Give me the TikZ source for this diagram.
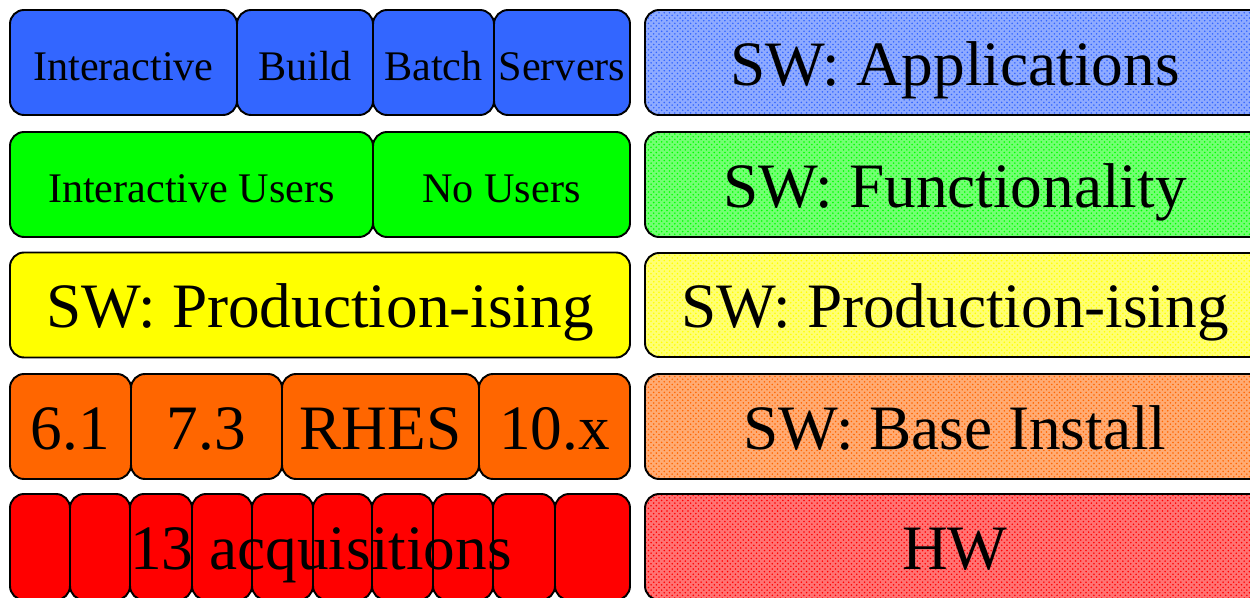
\documentclass[tikz,border=0pt]{standalone}
\usepackage{fontspec}
\setmainfont{Liberation Serif}
\usetikzlibrary{patterns}

\definecolor{hwred}{RGB}{255,0,0}
\definecolor{baseorange}{RGB}{255,102,0}
\definecolor{prodyellow}{RGB}{255,255,0}
\definecolor{funcgreen}{RGB}{0,255,0}
\definecolor{appblue}{RGB}{51,102,255}

\begin{document}
\begin{tikzpicture}
    \tikzstyle{blk} = [shape=rectangle, rounded corners=8pt, draw, line width=1.1pt, align=center, inner sep=0pt]
    \tikzstyle{bigtxt} = [font=\fontsize{36}{40}\selectfont, text height=26pt, text depth=0pt]
    \tikzstyle{smalltxt} = [font=\fontsize{24}{27}\selectfont, text height=20pt, text depth=0pt]
    \tikzstyle{layer} = [blk, bigtxt, minimum width=12.4cm, minimum height=2.1cm]
    \tikzstyle{noisy} = [layer, preaction={fill=#1!55!white}, pattern=crosshatch dots, pattern color=#1]

    \useasboundingbox (0, 0) rectangle (25, -11.96);

    % left column: what runs where
        \node[blk, smalltxt, fill=appblue, minimum width=4.54cm, minimum height=2.1cm] (interactive) at (2.47, -1.25)
            {Interactive};
        \node[blk, smalltxt, fill=appblue, minimum width=2.72cm, minimum height=2.1cm] (build) at (6.10, -1.25)
            {Build};
        \node[blk, smalltxt, fill=appblue, minimum width=2.42cm, minimum height=2.1cm] (batch) at (8.67, -1.25)
            {Batch};
        \node[blk, smalltxt, fill=appblue, minimum width=2.72cm, minimum height=2.1cm] (servers) at (11.24, -1.25)
            {Servers};

        \node[blk, smalltxt, fill=funcgreen, minimum width=7.26cm, minimum height=2.1cm] (users) at (3.83, -3.69)
            {Interactive Users};
        \node[blk, smalltxt, fill=funcgreen, minimum width=5.14cm, minimum height=2.1cm] (nousers) at (10.03, -3.69)
            {No Users};

        \node[layer, fill=prodyellow] (prodleft) at (6.4, -6.1)
            {SW: Production-ising};

        \node[blk, bigtxt, fill=baseorange, minimum width=2.42cm, minimum height=2.1cm] (rhsix) at (1.41, -8.53)
            {6.1};
        \node[blk, bigtxt, fill=baseorange, minimum width=3.02cm, minimum height=2.1cm] (rhseven) at (4.13, -8.53)
            {7.3};
        \node[blk, bigtxt, fill=baseorange, minimum width=3.94cm, minimum height=2.1cm] (rhes) at (7.61, -8.53)
            {RHES};
        \node[blk, bigtxt, fill=baseorange, minimum width=3.02cm, minimum height=2.1cm] (osx) at (11.09, -8.53)
            {10.x};

        \node[blk, fill=hwred, minimum width=1.20cm, minimum height=2.12cm] (acqa) at ( 0.80, -10.94) {};
        \node[blk, fill=hwred, minimum width=1.20cm, minimum height=2.12cm] (acqb) at ( 2.00, -10.94) {};
        \node[blk, fill=hwred, minimum width=1.24cm, minimum height=2.12cm] (acqc) at ( 3.22, -10.94) {};
        \node[blk, fill=hwred, minimum width=1.20cm, minimum height=2.12cm] (acqd) at ( 4.44, -10.94) {};
        \node[blk, fill=hwred, minimum width=1.22cm, minimum height=2.12cm] (acqe) at ( 5.65, -10.94) {};
        \node[blk, fill=hwred, minimum width=1.18cm, minimum height=2.12cm] (acqf) at ( 6.85, -10.94) {};
        \node[blk, fill=hwred, minimum width=1.22cm, minimum height=2.12cm] (acqg) at ( 8.05, -10.94) {};
        \node[blk, fill=hwred, minimum width=1.20cm, minimum height=2.12cm] (acqh) at ( 9.26, -10.94) {};
        \node[blk, fill=hwred, minimum width=1.24cm, minimum height=2.12cm] (acqi) at (10.48, -10.94) {};
        \node[blk, fill=hwred, minimum width=1.50cm, minimum height=2.12cm] (acqj) at (11.85, -10.94) {};
        \node[bigtxt, inner sep=0pt] (acqlabel) at (6.42, -10.94) {13 acquisitions};

    % right column: the layers
        \node[noisy=appblue] (apps) at (19.1, -1.25) {SW: Applications};
        \node[noisy=funcgreen] (func) at (19.1, -3.69) {SW: Functionality};
        \node[noisy=prodyellow, minimum height=2.08cm] (prodright) at (19.1, -6.1) {SW: Production-ising};
        \node[noisy=baseorange] (base) at (19.1, -8.53) {SW: Base Install};
        \node[noisy=hwred, minimum height=2.12cm] (hw) at (19.1, -10.94) {HW};

\end{tikzpicture}
\end{document}
